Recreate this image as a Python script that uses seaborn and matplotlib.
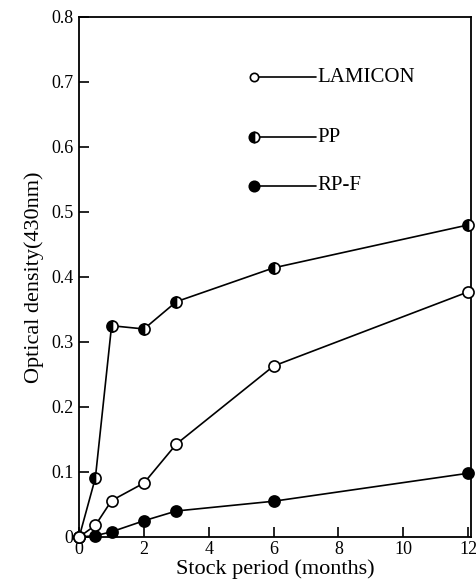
import matplotlib
matplotlib.use("Agg")
import matplotlib.pyplot as plt
import seaborn as sns
import pandas as pd

months = [0, 0.5, 1, 2, 3, 6, 12]
lamicon = [0.0, 0.018, 0.056, 0.083, 0.143, 0.263, 0.377]
pp = [0.0, 0.091, 0.325, 0.320, 0.362, 0.414, 0.480]
rpf = [0.0, 0.002, 0.008, 0.025, 0.040, 0.055, 0.098]
series_names = ["LAMICON", "PP", "RP-F"]
x_ticks = [0, 2, 4, 6, 8, 10, 12]
y_ticks = [0, 0.1, 0.2, 0.3, 0.4, 0.5, 0.6, 0.7, 0.8]
y_tick_labels = ["0", "0.1", "0.2", "0.3", "0.4", "0.5", "0.6", "0.7", "0.8"]

sns.set_theme(style="ticks")
plt.rcParams["font.family"] = ["Liberation Serif", "DejaVu Serif"]

df = pd.DataFrame({
    "month": months * 3,
    "od": lamicon + pp + rpf,
    "series": [series_names[0]] * len(months) + [series_names[1]] * len(months) + [series_names[2]] * len(months),
})

fig = plt.figure(figsize=(4.77, 5.84), dpi=100)
ax = fig.add_axes([0.166, 0.0805, 0.822, 0.8905])

styles = {
    "LAMICON": dict(markerfacecolor="white", fillstyle="full"),
    "PP": dict(markerfacecolor="black", fillstyle="left", markerfacecoloralt="white"),
    "RP-F": dict(markerfacecolor="black", fillstyle="full"),
}

for name in ["RP-F", "PP", "LAMICON"]:
    sub = df[df["series"] == name]
    sns.lineplot(data=sub, x="month", y="od", ax=ax, color="black", linewidth=1.2,
                 legend=False, estimator=None, sort=False)
    st = styles[name]
    ax.plot(sub["month"], sub["od"], linestyle="none", marker="o", markersize=8,
            markeredgecolor="black", markeredgewidth=1.2,
            markerfacecolor=st["markerfacecolor"], fillstyle=st["fillstyle"],
            markerfacecoloralt=st.get("markerfacecoloralt", "white"),
            clip_on=False, zorder=5)

ax.set_xlim(0, 12.1)
ax.set_ylim(0, 0.8)
ax.set_xticks(x_ticks)
ax.set_xticklabels([str(t) for t in x_ticks])
ax.set_yticks(y_ticks)
ax.set_yticklabels(y_tick_labels)
ax.tick_params(direction="in", length=7, width=1.2, labelsize=13, colors="black")
ax.tick_params(axis="x", pad=3)
ax.tick_params(axis="y", pad=4)
for s in ax.spines.values():
    s.set_visible(True)
    s.set_linewidth(1.3)
    s.set_color("black")

ax.set_xlabel("Stock period (months)", fontsize=16, labelpad=1, color="black")
ax.set_ylabel("Optical density(430nm)", fontsize=16, labelpad=5, color="black")

leg_y = [0.707, 0.615, 0.54]
leg_marker_size = [6, 7.5, 7.5]
for name, yv, ms in zip(series_names, leg_y, leg_marker_size):
    st = styles[name]
    ax.plot([5.4, 7.3], [yv, yv], color="black", linewidth=1.2)
    ax.plot([5.4], [yv], linestyle="none", marker="o", markersize=ms,
            markeredgecolor="black", markeredgewidth=1.2,
            markerfacecolor=st["markerfacecolor"], fillstyle=st["fillstyle"],
            markerfacecoloralt=st.get("markerfacecoloralt", "white"), zorder=5)
    ax.text(7.35, yv, name, fontsize=15, va="center", ha="left", color="black")

fig.savefig("out.png", dpi=100)
